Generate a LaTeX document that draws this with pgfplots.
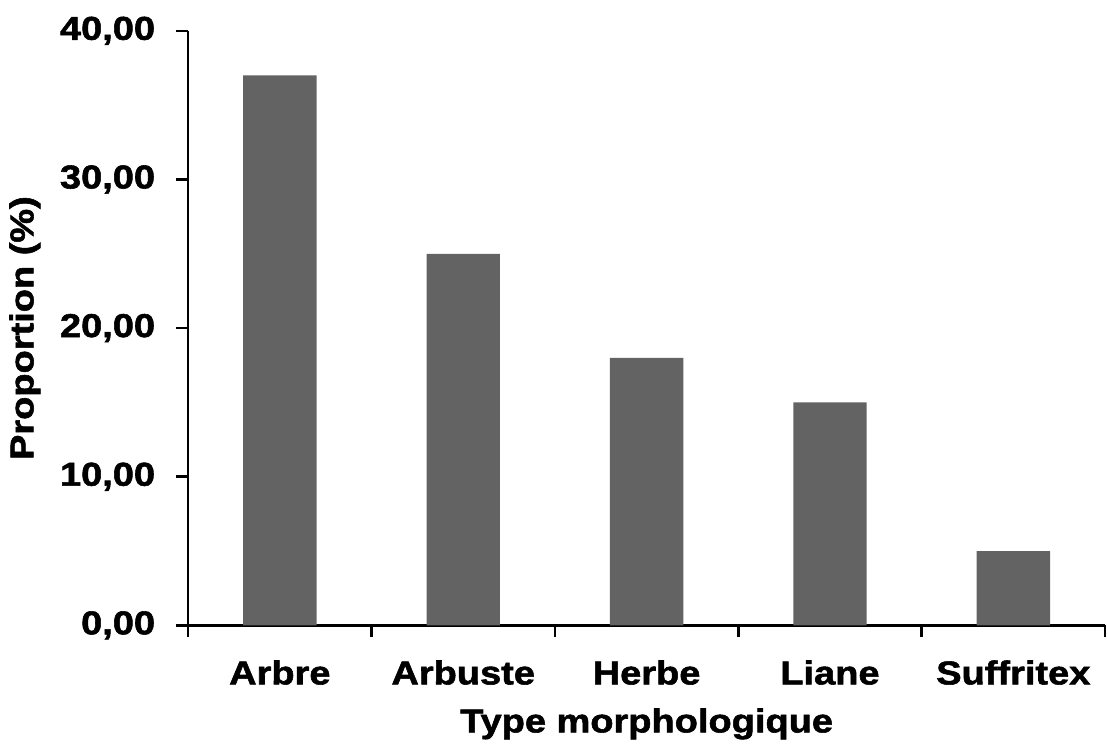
\documentclass[border=0pt]{standalone}
\usepackage{fontspec}
\setmainfont{Liberation Sans}[BoldFeatures={FakeBold=1.7,FakeStretch=1.15}]
\usepackage{pgfplots}
\pgfplotsset{compat=1.18}
\begin{document}
\begin{tikzpicture}
\begin{axis}[
  scale only axis,
  width=458pt, height=297pt,
  ybar, bar width=0.4,
  xmin=-0.5, xmax=4.5,
  ymin=0, ymax=40,
  axis lines*=left,
  axis line style={line width=1.3pt},
  xtick={0,1,2,3,4},
  xticklabels={Arbre,Arbuste,Herbe,Liane,Suffritex},
  major x tick style={draw=none},
  minor xtick={-0.5,0.5,1.5,2.5,3.5,4.5},
  minor x tick style={line width=1.3pt, black},
  minor tick length=6pt,
  ytick={0,10,20,30,40},
  major y tick style={line width=1.3pt, black},
  major tick length=6pt,
  tick align=outside,
  /pgf/number format/fixed,
  /pgf/number format/fixed zerofill,
  /pgf/number format/precision=2,
  /pgf/number format/use comma,
  /pgf/number format/assume math mode=true,
  ticklabel style={font=\fontsize{16.5}{19}\selectfont\bfseries},
  xticklabel style={yshift=-8pt},
  yticklabel style={xshift=-7pt},
  xlabel={Type morphologique},
  ylabel={Proportion (\%)},
  label style={font=\fontsize{16.5}{19}\selectfont\bfseries},
  xlabel style={yshift=-5pt},
  ylabel style={yshift=3pt},
  clip=false,
]
\addplot[fill=black!61, draw=none] coordinates {(0,37) (1,25) (2,18) (3,15) (4,5)};
\end{axis}
\pgfresetboundingbox
\path ([shift={(-94pt,-63pt)}]current axis.south west) rectangle ([shift={(1.5pt,15.4pt)}]current axis.north east);
\end{tikzpicture}
\end{document}
